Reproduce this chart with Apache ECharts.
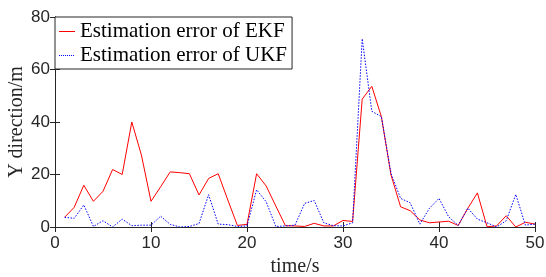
<!DOCTYPE html>
<html>
<head>
<meta charset="utf-8">
<script src="https://cdn.jsdelivr.net/npm/echarts@6/dist/echarts.min.js"></script>
<style>
  html, body { margin: 0; padding: 0; background: #fff; }
  #chart { width: 546px; height: 277px; }
</style>
</head>
<body>
<div id="chart"></div>
<script>
// time axis (s)
var time = [1, 2, 3, 4, 5, 6, 7, 8, 9, 10,
  11, 12, 13, 14, 15, 16, 17, 18, 19, 20,
  21, 22, 23, 24, 25, 26, 27, 28, 29, 30,
  31, 32, 33, 34, 35, 36, 37, 38, 39, 40,
  41, 42, 43, 44, 45, 46, 47, 48, 49, 50];
// EKF estimation error (m)
var ekf = [3.7, 7.5, 15.9, 9.8, 13.6, 21.9, 20.0, 40.0, 27.4, 9.8,
  15.3, 21.0, 20.7, 20.3, 12.2, 18.5, 20.3, 10.3, 0.6, 1.0,
  20.3, 15.6, 8.0, 0.5, 0.4, 0.2, 1.4, 0.4, 0.4, 2.5,
  2.1, 48.7, 53.6, 42.0, 19.8, 7.7, 6.2, 2.7, 1.6, 1.9,
  2.2, 0.6, 7.1, 13.0, 0.1, 0.4, 4.3, 0.0, 1.8, 1.1];
// UKF estimation error (m)
var ukf = [3.7, 3.3, 8.4, 0.2, 2.4, 0.0, 3.0, 0.5, 0.7, 0.7,
  4.1, 1.0, 0.0, 0.2, 1.3, 12.3, 1.1, 0.9, 0.2, 0.4,
  14.2, 9.6, 0.2, 0.4, 0.7, 9.0, 10.1, 1.6, 0.5, 0.4,
  1.6, 71.7, 44.1, 42.0, 20.4, 10.9, 9.2, 1.1, 7.1, 10.9,
  3.9, 0.6, 7.2, 3.0, 1.6, 0.0, 2.4, 12.4, 0.7, 1.1];
var seriesNames = ['Estimation error of EKF', 'Estimation error of UKF'];

function pairs(ys) {
  return time.map(function (t, i) { return [t, ys[i]]; });
}

// legend icons: thin horizontal line (solid / dotted); tiny corner dots keep the 16x20 box
var box = 'M0,0h0.01v0.01h-0.01z M16,19.99h0.01v0.01h-0.01z ';
var solidIcon = 'path://' + box + 'M0,9.5h16v1h-16z';
var dotIcon = 'path://' + box;
for (var d = 0; d < 16; d += 2) dotIcon += 'M' + d + ',9.5h1v1h-1z ';

var axisColor = '#262626';
var tickFont = { color: axisColor, fontFamily: 'Liberation Sans', fontSize: 17 };
var nameFont = { color: axisColor, fontFamily: 'Liberation Serif', fontSize: 20 };

var myChart = echarts.init(document.getElementById('chart'), null, { renderer: 'canvas' });
var option = {
  animation: false,
  grid: { left: 55, right: 11, top: 17, bottom: 50, outerBoundsMode: 'none', containLabel: false },
  legend: {
    orient: 'vertical',
    left: 55,
    top: 17,
    padding: [4, 5, 3, 4],
    itemGap: 3,
    itemWidth: 16,
    itemHeight: 20,
    backgroundColor: '#fff',
    borderColor: axisColor,
    borderWidth: 1,
    borderRadius: 0,
    data: [
      { name: seriesNames[0], icon: solidIcon, itemStyle: { color: '#ff0000' } },
      { name: seriesNames[1], icon: dotIcon, itemStyle: { color: '#0000ff' } }
    ],
    textStyle: { color: '#000', fontFamily: 'Liberation Serif', fontSize: 21 }
  },
  xAxis: [
    {
      type: 'value', min: 0, max: 50, interval: 10,
      name: 'time/s', nameLocation: 'middle', nameGap: 27,
      nameTextStyle: nameFont,
      axisLine: { lineStyle: { color: axisColor } },
      axisTick: { inside: true, length: 5, lineStyle: { color: axisColor } },
      axisLabel: tickFont,
      splitLine: { show: false }
    },
    {
      type: 'value', min: 0, max: 50, interval: 10, position: 'top',
      axisLine: { lineStyle: { color: axisColor } },
      axisTick: { inside: true, length: 5, lineStyle: { color: axisColor } },
      axisLabel: { show: false },
      splitLine: { show: false }
    }
  ],
  yAxis: [
    {
      type: 'value', min: 0, max: 80, interval: 20,
      name: 'Y direction/m', nameLocation: 'middle', nameGap: 28,
      nameMoveOverlap: false,
      nameTextStyle: nameFont,
      axisLine: { show: true, lineStyle: { color: axisColor } },
      axisTick: { show: true, inside: true, length: 5, lineStyle: { color: axisColor } },
      axisLabel: Object.assign({ margin: 5 }, tickFont),
      splitLine: { show: false }
    },
    {
      type: 'value', min: 0, max: 80, interval: 20, position: 'right',
      axisLine: { show: true, lineStyle: { color: axisColor } },
      axisTick: { show: true, inside: true, length: 5, lineStyle: { color: axisColor } },
      axisLabel: { show: false },
      splitLine: { show: false }
    }
  ],
  series: [
    {
      name: seriesNames[0],
      type: 'line',
      symbol: 'none',
      data: pairs(ekf),
      lineStyle: { color: '#ff0000', width: 1 },
      itemStyle: { color: '#ff0000' },
      z: 3
    },
    {
      name: seriesNames[1],
      type: 'line',
      symbol: 'none',
      data: pairs(ukf),
      lineStyle: { color: '#0000ff', width: 1, type: [1.5, 1.5] },
      itemStyle: { color: '#0000ff' },
      z: 4
    }
  ]
};
myChart.setOption(option);
</script>
</body>
</html>
